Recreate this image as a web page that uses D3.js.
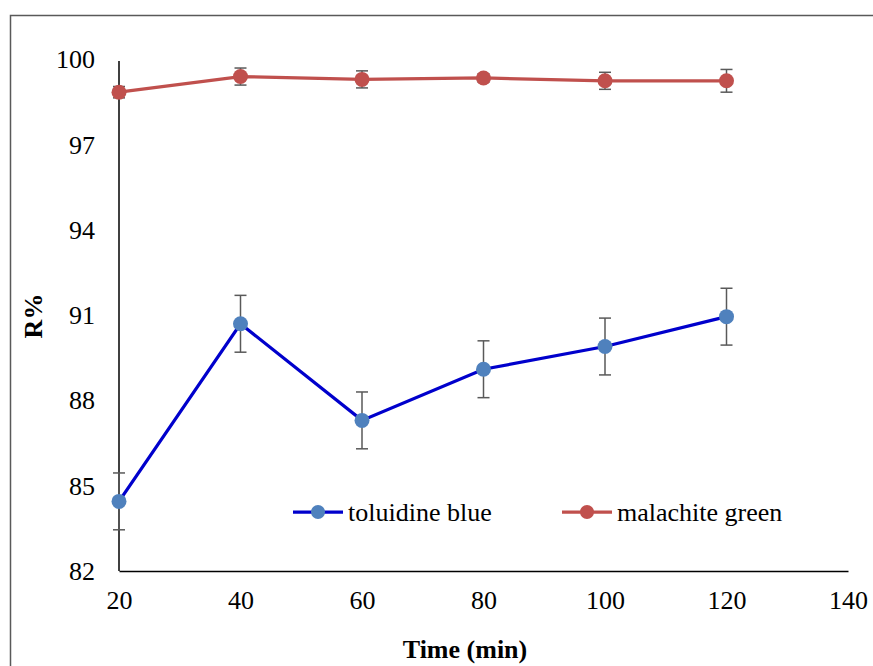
<!DOCTYPE html>
<html>
<head>
<meta charset="utf-8">
<script src="https://cdn.jsdelivr.net/npm/d3@7"></script>
<style>
  body { margin: 0; background: #fff; }
  text { font-family: "Liberation Serif", "Times New Roman", serif; }
</style>
</head>
<body>
<div id="chart"></div>
<script>
// data
const times = [20, 40, 60, 80, 100, 120];
const toluidineBlue = [84.45, 90.7, 87.3, 89.1, 89.9, 90.95];
const toluidineErr = [1.0, 1.0, 1.0, 1.0, 1.0, 1.0];
const malachiteGreen = [98.85, 99.4, 99.3, 99.35, 99.25, 99.25];
const malachiteErr = [0.2, 0.3, 0.3, 0.15, 0.3, 0.4];
const xTicks = [20, 40, 60, 80, 100, 120, 140];
const yTicks = [82, 85, 88, 91, 94, 97, 100];

const series = [
    { name: "toluidine blue", values: toluidineBlue, err: toluidineErr, line: "#0000cc", marker: "#4f81bd" },
    { name: "malachite green", values: malachiteGreen, err: malachiteErr, line: "#c0504d", marker: "#c0504d" }
];

const width = 873, height = 666;
const fontSize = 26;
const serif = "'Liberation Serif', 'Times New Roman', serif";

const svg = d3.select("#chart")
    .append("svg")
    .attr("width", width)
    .attr("height", height);

// outer frame (runs off the right and bottom edge)
svg.append("rect")
    .attr("x", 10.5)
    .attr("y", 15.5)
    .attr("width", 880)
    .attr("height", 700)
    .attr("fill", "none")
    .attr("stroke", "#595959")
    .attr("stroke-width", 1.5);

const x = d3.scaleLinear().domain([20, 140]).range([119, 848]);
const y = d3.scaleLinear().domain([82, 100]).range([571, 59.5]);

// axes
const xAxis = svg.append("g")
    .attr("transform", `translate(0,${y(82)})`)
    .call(d3.axisBottom(x).tickValues(xTicks).tickSize(0).tickPadding(20));
xAxis.select(".domain").attr("stroke", "#000").attr("stroke-width", 1.5);
xAxis.selectAll("text").attr("font-size", fontSize).attr("fill", "#000")
    .style("font-family", serif);

const yAxis = svg.append("g")
    .attr("transform", `translate(${x(20)},0)`)
    .call(d3.axisLeft(y).tickValues(yTicks).tickSize(0).tickPadding(24));
yAxis.select(".domain").attr("stroke", "#000").attr("stroke-width", 1.5)
    .attr("d", `M0,${y(82)}V61`);
yAxis.selectAll("text").attr("font-size", fontSize).attr("fill", "#000")
    .style("font-family", serif);

// axis titles
svg.append("text")
    .attr("transform", `translate(42,${316}) rotate(-90)`)
    .attr("text-anchor", "middle")
    .attr("font-size", fontSize)
    .attr("font-weight", "bold")
    .style("font-family", serif)
    .text("R%");

svg.append("text")
    .attr("x", 465)
    .attr("y", 658)
    .attr("text-anchor", "middle")
    .attr("font-size", fontSize)
    .attr("font-weight", "bold")
    .style("font-family", serif)
    .text("Time (min)");

const line = d3.line()
    .x((d, i) => x(times[i]))
    .y(d => y(d));

series.forEach(s => {
    const g = svg.append("g");

    // error bars
    const eb = g.selectAll(".err")
        .data(s.values)
        .enter()
        .append("g")
        .attr("stroke", "#595959")
        .attr("stroke-width", 1.5);
    eb.append("line")
        .attr("x1", (d, i) => x(times[i]))
        .attr("x2", (d, i) => x(times[i]))
        .attr("y1", (d, i) => y(d - s.err[i]))
        .attr("y2", (d, i) => y(d + s.err[i]));
    eb.append("line")
        .attr("x1", (d, i) => x(times[i]) - 6)
        .attr("x2", (d, i) => x(times[i]) + 6)
        .attr("y1", (d, i) => y(d + s.err[i]))
        .attr("y2", (d, i) => y(d + s.err[i]));
    eb.append("line")
        .attr("x1", (d, i) => x(times[i]) - 6)
        .attr("x2", (d, i) => x(times[i]) + 6)
        .attr("y1", (d, i) => y(d - s.err[i]))
        .attr("y2", (d, i) => y(d - s.err[i]));

    g.append("path")
        .datum(s.values)
        .attr("d", line)
        .attr("fill", "none")
        .attr("stroke", s.line)
        .attr("stroke-width", 3.25);

    g.selectAll(".pt")
        .data(s.values)
        .enter()
        .append("circle")
        .attr("cx", (d, i) => x(times[i]))
        .attr("cy", d => y(d))
        .attr("r", 7.5)
        .attr("fill", s.marker);
});

// legend
const legend = svg.append("g").attr("transform", "translate(293,512)");
const items = legend.selectAll(".item")
    .data(series)
    .enter()
    .append("g")
    .attr("transform", (d, i) => `translate(${i * 269},0)`);
items.append("line")
    .attr("x1", 0).attr("x2", 50)
    .attr("stroke", d => d.line)
    .attr("stroke-width", 3.25);
items.append("circle")
    .attr("cx", 25)
    .attr("r", 7)
    .attr("fill", d => d.marker);
items.append("text")
    .attr("x", 55)
    .attr("dy", "0.33em")
    .attr("font-size", fontSize)
    .style("font-family", serif)
    .text(d => d.name);
</script>
</body>
</html>
